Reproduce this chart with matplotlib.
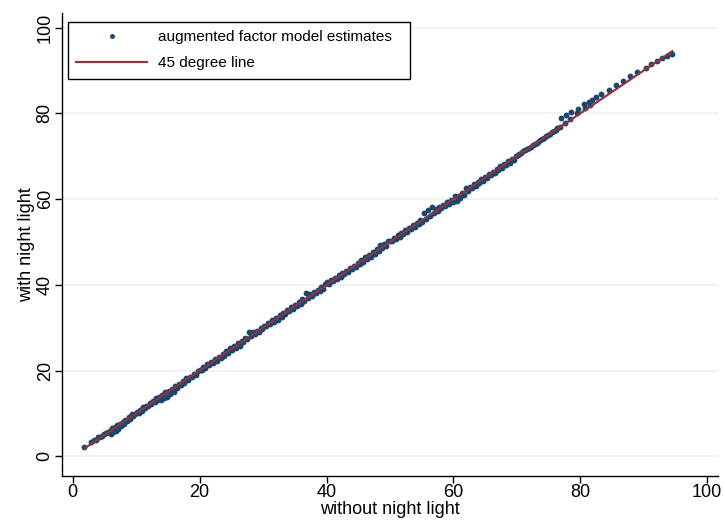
import matplotlib
matplotlib.use("Agg")
import matplotlib.pyplot as plt
import numpy as np

plt.rcParams["font.family"] = ["Liberation Sans", "DejaVu Sans"]

# estimates: without night light (x) vs with night light (y)
x_low = [1.8, 2.9, 3.3, 3.6, 4.0, 4.3, 4.6, 4.9, 5.2, 5.5, 5.8, 6.0, 6.2, 6.4, 6.6,
         6.8, 7.0, 7.2, 7.4, 7.6, 7.9, 8.1, 8.3, 8.6, 8.8, 9.0, 9.3, 9.5, 9.8]
y_low = [2.2, 3.3, 3.7, 3.8, 4.4, 4.4, 4.8, 5.2, 5.4, 5.7, 5.9, 5.3, 6.6, 5.6, 6.9,
         6.0, 7.2, 6.3, 7.5, 7.0, 8.0, 7.5, 8.5, 8.2, 9.1, 8.8, 9.9, 9.3, 9.9]

x_10 = [10.1, 10.4, 10.6, 10.9, 11.1, 11.4, 11.6, 11.9, 12.1, 12.4, 12.6, 12.9, 13.1,
        13.4, 13.6, 13.9, 14.1, 14.4, 14.6, 14.9, 15.1, 15.4, 15.6, 15.9, 16.1, 16.4,
        16.7, 17.0, 17.3, 17.6, 17.9, 18.2, 18.5, 18.8, 19.1, 19.4, 19.7]
y_10 = [10.4, 10.2, 10.9, 10.6, 11.5, 11.2, 11.8, 11.7, 12.5, 12.1, 12.9, 12.6, 13.6,
        13.2, 13.8, 13.1, 14.3, 13.6, 14.9, 13.9, 15.3, 14.5, 15.8, 14.9, 16.3, 15.9,
        16.9, 16.6, 17.5, 17.2, 18.3, 17.9, 18.6, 18.5, 19.3, 19.0, 19.9]

x_20 = [20.0, 20.3, 20.6, 20.9, 21.2, 21.5, 21.8, 22.1, 22.4, 22.7, 23.0, 23.3, 23.6,
        23.9, 24.2, 24.5, 24.8, 25.1, 25.4, 25.7, 26.0, 26.3, 26.6, 26.9, 27.2, 27.5,
        27.8, 28.1, 28.4, 28.7, 29.0, 29.3, 29.6, 29.9]
y_20 = [20.2, 20.1, 20.8, 20.6, 21.5, 21.2, 22.1, 21.7, 22.7, 22.3, 23.2, 22.9, 23.9,
        23.4, 24.6, 24.1, 25.2, 24.7, 25.8, 25.3, 26.5, 25.8, 27.0, 26.6, 27.6, 27.3,
        28.9, 28.0, 28.9, 28.5, 29.3, 29.0, 29.9, 29.6]

x_30 = [30.2, 30.5, 30.8, 31.1, 31.4, 31.7, 32.0, 32.3, 32.6, 32.9, 33.2, 33.5, 33.8,
        34.1, 34.4, 34.7, 35.0, 35.3, 35.6, 35.9, 36.2, 36.5, 36.8, 37.1, 37.4, 37.7,
        38.0, 38.3, 38.6, 38.9, 39.2, 39.5, 39.8]
y_30 = [30.5, 30.3, 31.0, 30.8, 31.7, 31.4, 32.3, 31.9, 32.9, 32.6, 33.5, 33.2, 34.1,
        33.8, 34.8, 34.4, 35.4, 35.0, 36.0, 35.5, 36.7, 36.3, 38.0, 37.0, 37.9, 37.5,
        38.4, 38.0, 38.9, 38.5, 39.6, 39.1, 40.1]

x_40 = [40.1, 40.4, 40.7, 41.0, 41.3, 41.6, 41.9, 42.2, 42.5, 42.8, 43.1, 43.4, 43.7,
        44.0, 44.3, 44.6, 44.9, 45.2, 45.5, 45.8, 46.1, 46.4, 46.7, 47.0, 47.3, 47.6,
        47.9, 48.2, 48.5, 48.8, 49.1, 49.4, 49.7]
y_40 = [40.6, 40.2, 41.1, 40.8, 41.6, 41.3, 42.2, 41.8, 42.7, 42.5, 43.3, 43.0, 43.9,
        43.6, 44.5, 44.2, 45.1, 44.8, 45.7, 45.4, 46.4, 46.0, 46.9, 46.6, 47.6, 47.2,
        48.3, 47.9, 49.2, 48.5, 49.4, 49.1, 50.2]

x_50 = [50.0, 50.3, 50.6, 50.9, 51.2, 51.5, 51.8, 52.1, 52.4, 52.7, 53.0, 53.3, 53.6,
        53.9, 54.2, 54.5, 54.8, 55.1, 55.4, 55.7, 56.0, 56.3, 56.6, 56.9, 57.2, 57.5,
        57.8, 58.1, 58.4, 58.7, 59.0, 59.3, 59.6, 59.9]
y_50 = [50.3, 50.1, 50.9, 50.6, 51.6, 51.2, 52.1, 51.8, 52.7, 52.4, 53.3, 53.0, 53.9,
        53.5, 54.5, 54.1, 55.0, 54.7, 56.8, 55.3, 57.5, 56.0, 58.1, 56.7, 57.6, 57.2,
        58.1, 57.9, 58.7, 58.3, 59.3, 58.8, 59.7, 59.4]

x_60 = [60.2, 60.5, 60.8, 61.1, 61.4, 61.7, 62.0, 62.3, 62.6, 62.9, 63.2, 63.5, 63.8,
        64.1, 64.4, 64.7, 65.0, 65.3, 65.6, 65.9, 66.2, 66.5, 66.8, 67.1, 67.4, 67.7,
        68.0, 68.3, 68.6, 68.9, 69.2, 69.5, 69.8]
y_60 = [60.6, 59.6, 60.7, 60.3, 61.4, 61.0, 62.5, 61.9, 62.8, 62.6, 63.4, 63.1, 64.0,
        63.7, 64.6, 64.3, 65.2, 64.9, 65.8, 65.5, 66.4, 66.1, 67.0, 66.7, 67.6, 67.3,
        68.2, 67.9, 68.8, 68.5, 69.4, 69.1, 70.0]

x_70 = [70.1, 70.4, 70.7, 71.0, 71.3, 71.6, 71.9, 72.2, 72.5, 72.8, 73.1, 73.4, 73.7,
        74.0, 74.3, 74.6, 74.9, 75.2, 75.5, 75.8, 76.1, 76.4, 76.8, 77.6, 78.4, 79.5,
        80.8, 81.6]
y_70 = [70.2, 70.5, 70.8, 71.1, 71.4, 71.6, 72.0, 72.2, 72.5, 72.9, 73.1, 73.4, 73.8,
        74.0, 74.3, 74.7, 74.9, 75.2, 75.6, 75.8, 76.1, 76.5, 76.9, 77.7, 78.7, 80.1,
        81.2, 82.0]

# sparse upper tail
x_top = [76.9, 77.7, 78.6, 79.6, 80.6, 81.3, 81.9, 82.5, 83.3, 84.5, 85.6, 86.7, 87.8,
         89.0, 90.3, 91.2, 92.1, 92.9, 93.7, 94.5]
y_top = [79.0, 79.6, 80.4, 81.1, 82.1, 82.7, 83.2, 83.7, 84.4, 85.4, 86.5, 87.5, 88.6,
         89.6, 90.6, 91.5, 92.2, 92.9, 93.4, 93.9]

x = np.array(x_low + x_10 + x_20 + x_30 + x_40 + x_50 + x_60 + x_70 + x_top)
y = np.array(y_low + y_10 + y_20 + y_30 + y_40 + y_50 + y_60 + y_70 + y_top)

navy = "#1a476f"
maroon = "#90353b"

fig = plt.figure(figsize=(7.25, 5.2), dpi=100)
ax = fig.add_axes([62 / 725, 1 - 476 / 520, (718 - 62) / 725, (476 - 13) / 520])

for t in [0, 20, 40, 60, 80, 100]:
    ax.axhline(t, color="#eaf2f3", lw=1.2, zorder=0)

ax.plot(x, y, "o", color=navy, ms=4.2, mew=0, label="augmented factor model estimates", zorder=2)
ends = np.array([x.min(), x.max()])
ax.plot(ends, ends, color=maroon, lw=1.6, label="45 degree line", zorder=3)

ax.set_xlim(-1.7, 101.7)
ax.set_ylim(-4.6, 103.4)
ax.set_xticks([0, 20, 40, 60, 80, 100])
ax.set_yticks([0, 20, 40, 60, 80, 100])
ax.tick_params(axis="both", labelsize=13, length=5, width=1, direction="out",
               color="black", pad=1)
for lab in ax.get_yticklabels():
    lab.set_rotation(90)
    lab.set_va("center")

for side in ["top", "right"]:
    ax.spines[side].set_visible(False)
for side in ["left", "bottom"]:
    ax.spines[side].set_linewidth(1)

ax.set_xlabel("without night light", fontsize=13, labelpad=0)
ax.set_ylabel("with night light", fontsize=13, labelpad=1)

leg = ax.legend(loc="upper left",
                bbox_to_anchor=(68 / 725, 1 - 22 / 520 - 0.01, (410 - 68) / 725, 0.01),
                bbox_transform=fig.transFigure, mode="expand", fontsize=11,
                frameon=True, fancybox=False, edgecolor="black", framealpha=1,
                handlelength=4.6, handletextpad=0.75, labelspacing=0.78,
                borderpad=0.55, borderaxespad=0, markerscale=0.85)
leg.get_frame().set_linewidth(1)

fig.savefig("out.png", dpi=100)
